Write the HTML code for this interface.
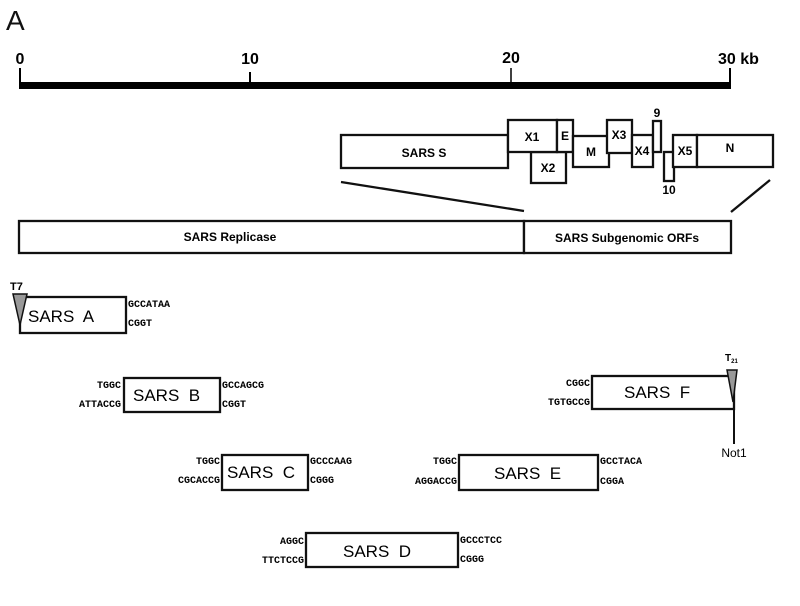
<!DOCTYPE html>
<html><head><meta charset="utf-8"><style>
html,body{margin:0;padding:0;background:#fff;}
svg{display:block;}
.b{font-family:"Liberation Sans",Arial,sans-serif;font-weight:bold;}
.s{font-family:"Liberation Mono",monospace;font-weight:bold;font-size:10px;}
.f{font-family:"Liberation Sans",Arial,sans-serif;font-size:17px;white-space:pre;}
rect{fill:#fff;stroke:#111;stroke-width:2.3;}
</style></head><body>
<svg width="800" height="606" viewBox="0 0 800 606" xmlns="http://www.w3.org/2000/svg">
<text x="6" y="30" font-family="Liberation Sans,sans-serif" font-size="28" fill="#111">A</text>
<text x="20" y="64" class="b" font-size="16" text-anchor="middle">0</text>
<text x="250" y="64" class="b" font-size="16" text-anchor="middle">10</text>
<text x="511" y="63" class="b" font-size="16" text-anchor="middle">20</text>
<text x="718" y="64" class="b" font-size="16">30 kb</text>
<rect x="19" y="82" width="712" height="7" style="fill:#000;stroke:none"/>
<line x1="20" y1="68" x2="20" y2="89" stroke="#000" stroke-width="2"/>
<line x1="250" y1="72" x2="250" y2="89" stroke="#000" stroke-width="2"/>
<line x1="511" y1="68" x2="511" y2="89" stroke="#000" stroke-width="1.5"/>
<line x1="730" y1="68" x2="730" y2="89" stroke="#000" stroke-width="2"/>
<rect x="341" y="135" width="167" height="33"/>
<text x="424" y="157" class="b" font-size="12" text-anchor="middle">SARS S</text>
<rect x="531" y="152" width="35" height="31"/>
<text x="548" y="172" class="b" font-size="12" text-anchor="middle">X2</text>
<rect x="508" y="120" width="49" height="32"/>
<text x="532" y="141" class="b" font-size="12" text-anchor="middle">X1</text>
<rect x="557" y="120" width="16" height="32"/>
<text x="565" y="140" class="b" font-size="12" text-anchor="middle">E</text>
<rect x="573" y="136" width="36" height="31"/>
<text x="591" y="156" class="b" font-size="12" text-anchor="middle">M</text>
<rect x="607" y="120" width="25" height="33"/>
<text x="619" y="139" class="b" font-size="12" text-anchor="middle">X3</text>
<rect x="632" y="135" width="21" height="32"/>
<text x="642" y="155" class="b" font-size="12" text-anchor="middle">X4</text>
<rect x="653" y="121" width="8" height="31"/>
<text x="657" y="117" class="b" font-size="12" text-anchor="middle">9</text>
<rect x="664" y="152" width="10" height="29"/>
<text x="669" y="194" class="b" font-size="12" text-anchor="middle">10</text>
<rect x="673" y="135" width="24" height="32"/>
<text x="685" y="155" class="b" font-size="12" text-anchor="middle">X5</text>
<rect x="697" y="135" width="76" height="32"/>
<text x="730" y="152" class="b" font-size="12" text-anchor="middle">N</text>
<line x1="341" y1="182" x2="524" y2="211" stroke="#111" stroke-width="2.3"/>
<line x1="770" y1="180" x2="731" y2="212" stroke="#111" stroke-width="2.3"/>
<rect x="19" y="221" width="505" height="32"/>
<text x="230" y="241" class="b" font-size="12" text-anchor="middle">SARS Replicase</text>
<rect x="524" y="221" width="207" height="32"/>
<text x="627" y="242" class="b" font-size="12" text-anchor="middle">SARS Subgenomic ORFs</text>
<rect x="20" y="297" width="106" height="36"/>
<polygon points="13,294 27,294 20,325" fill="#999" stroke="#111" stroke-width="1.5"/>
<text x="10" y="290" class="b" font-size="11">T7</text>
<text x="28" y="322" class="f">SARS  A</text>
<text x="128" y="307" class="s">GCCATAA</text>
<text x="128" y="326" class="s">CGGT</text>
<rect x="124" y="378" width="96" height="34"/>
<text x="133" y="401" class="f">SARS  B</text>
<text x="121" y="388" class="s" text-anchor="end">TGGC</text>
<text x="121" y="407" class="s" text-anchor="end">ATTACCG</text>
<text x="222" y="388" class="s">GCCAGCG</text>
<text x="222" y="407" class="s">CGGT</text>
<rect x="222" y="455" width="86" height="35"/>
<text x="227" y="478" class="f">SARS  C</text>
<text x="220" y="464" class="s" text-anchor="end">TGGC</text>
<text x="220" y="483" class="s" text-anchor="end">CGCACCG</text>
<text x="310" y="464" class="s">GCCCAAG</text>
<text x="310" y="483" class="s">CGGG</text>
<rect x="459" y="455" width="139" height="35"/>
<text x="494" y="479" class="f">SARS  E</text>
<text x="457" y="464" class="s" text-anchor="end">TGGC</text>
<text x="457" y="484" class="s" text-anchor="end">AGGACCG</text>
<text x="600" y="464" class="s">GCCTACA</text>
<text x="600" y="484" class="s">CGGA</text>
<rect x="306" y="533" width="152" height="34"/>
<text x="343" y="557" class="f">SARS  D</text>
<text x="304" y="544" class="s" text-anchor="end">AGGC</text>
<text x="304" y="563" class="s" text-anchor="end">TTCTCCG</text>
<text x="460" y="543" class="s">GCCCTCC</text>
<text x="460" y="562" class="s">CGGG</text>
<rect x="592" y="376" width="142" height="33"/>
<text x="624" y="398" class="f">SARS  F</text>
<text x="590" y="386" class="s" text-anchor="end">CGGC</text>
<text x="590" y="405" class="s" text-anchor="end">TGTGCCG</text>
<polygon points="727,370 737,370 733,402" fill="#999" stroke="#111" stroke-width="1.5"/>
<text x="725" y="361" class="b" font-size="10">T<tspan font-size="6" dy="2">21</tspan></text>
<line x1="734" y1="400" x2="734" y2="444" stroke="#111" stroke-width="2"/>
<text x="734" y="457" font-family="Liberation Sans,sans-serif" font-size="12" text-anchor="middle">Not1</text>
</svg>
</body></html>
